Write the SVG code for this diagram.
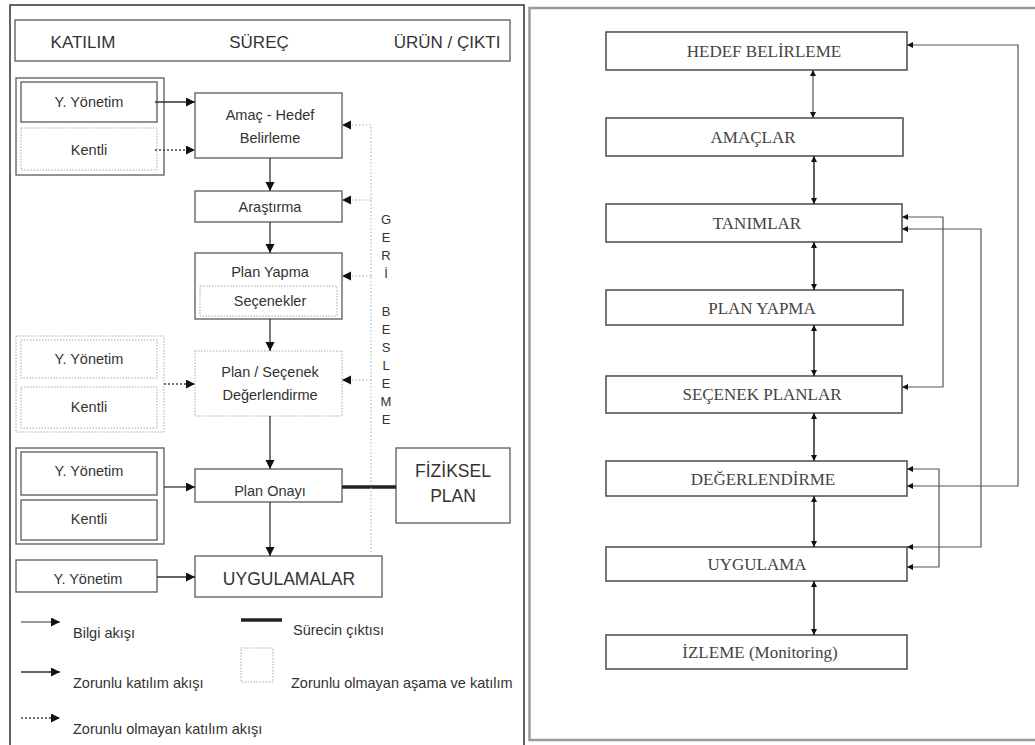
<svg xmlns="http://www.w3.org/2000/svg" width="1035" height="745" viewBox="0 0 1035 745">
<style>
.bg{fill:#fff}
.box{fill:#fff;stroke:#5a5a5a;stroke-width:1.3}
.dbox{fill:#fff;stroke:#a8a8a8;stroke-width:1;stroke-dasharray:1.5 1.5}
.sans{font-family:"Liberation Sans",Arial,sans-serif;fill:#333;text-anchor:middle}
.lg{font-family:"Liberation Sans",Arial,sans-serif;fill:#333;font-size:14.5px}
.serif{font-family:"Liberation Serif","Times New Roman",serif;fill:#444;text-anchor:middle;font-size:17px}
.rbox{fill:#fff;stroke:#555;stroke-width:1.6}
.ln{stroke:#333;stroke-width:1.3;fill:none}
.dl{stroke:#444;stroke-width:1.5;fill:none;stroke-dasharray:2 2}
.fb{stroke:#aaa;stroke-width:1;fill:none;stroke-dasharray:1.5 2}
.rl{stroke:#555;stroke-width:1.2;fill:none}
.va{stroke:#333;stroke-width:1.6;fill:none}
</style>
<defs>
<marker id="arr" markerUnits="userSpaceOnUse" markerWidth="10" markerHeight="10" refX="9" refY="4.5" orient="auto"><path d="M0,0 L9,4.5 L0,9 z" fill="#111"/></marker>
<marker id="sarr" markerUnits="userSpaceOnUse" markerWidth="7" markerHeight="7" refX="6" refY="3" orient="auto-start-reverse"><path d="M0,0 L6,3 L0,6 z" fill="#111"/></marker>
</defs>
<rect class="bg" x="0" y="0" width="1035" height="745"/>

<g id="panel-borders">
<polyline points="10,745 10,5 524,5 524,745" fill="none" stroke="#333" stroke-width="1.5"/>
<rect x="529.5" y="8" width="520" height="732" fill="none" stroke="#999" stroke-width="2.5"/>
</g>

<g id="header">
<rect class="box" x="15" y="20" width="495" height="41"/>
<text class="sans" x="83" y="48" font-size="17">KATILIM</text>
<text class="sans" x="259" y="48" font-size="17">SÜREÇ</text>
<text class="sans" x="447" y="48" font-size="17">ÜRÜN / ÇIKTI</text>
</g>

<g id="katilim1">
<rect class="box" x="16" y="78" width="148" height="97"/>
<rect class="box" x="21" y="82" width="136" height="40"/>
<text class="sans" x="89" y="107" font-size="14.5">Y. Yönetim</text>
<rect class="dbox" x="21" y="128" width="136" height="42"/>
<text class="sans" x="89" y="155" font-size="14.5">Kentli</text>
</g>

<g id="amac">
<rect class="box" x="195" y="93" width="147" height="65"/>
<text class="sans" x="270" y="120" font-size="14.5">Amaç - Hedef</text>
<text class="sans" x="270" y="143" font-size="14.5">Belirleme</text>
</g>

<g id="arastirma">
<rect class="box" x="195" y="191" width="147" height="31"/>
<text class="sans" x="270" y="212" font-size="14.5">Araştırma</text>
</g>

<g id="planyapma">
<rect class="box" x="195" y="253" width="147" height="66"/>
<text class="sans" x="270" y="277" font-size="14.5">Plan Yapma</text>
<rect class="dbox" x="200" y="286" width="137" height="30"/>
<text class="sans" x="270" y="306" font-size="14.5">Seçenekler</text>
</g>

<g id="katilim2">
<rect class="dbox" x="16" y="336" width="148" height="96"/>
<rect class="dbox" x="21" y="340" width="136" height="38"/>
<text class="sans" x="89" y="364" font-size="14.5">Y. Yönetim</text>
<rect class="dbox" x="21" y="387" width="136" height="41"/>
<text class="sans" x="89" y="412" font-size="14.5">Kentli</text>
</g>

<g id="degerlendirme">
<rect class="dbox" x="195" y="351" width="147" height="65"/>
<text class="sans" x="270" y="377" font-size="14.5">Plan / Seçenek</text>
<text class="sans" x="270" y="400" font-size="14.5">Değerlendirme</text>
</g>

<g id="katilim3">
<rect class="box" x="16" y="448" width="148" height="96"/>
<rect class="box" x="21" y="452" width="136" height="43"/>
<text class="sans" x="89" y="476" font-size="14.5">Y. Yönetim</text>
<rect class="box" x="21" y="500" width="136" height="40"/>
<text class="sans" x="89" y="524" font-size="14.5">Kentli</text>
</g>

<g id="planonayi">
<rect class="box" x="195" y="469" width="147" height="33"/>
<text class="sans" x="270" y="496" font-size="14.5">Plan Onayı</text>
</g>

<g id="fiziksel">
<rect class="box" x="396" y="448" width="114" height="75"/>
<text class="sans" x="453" y="477" font-size="17.5">FİZİKSEL</text>
<text class="sans" x="453" y="502" font-size="17.5">PLAN</text>
</g>

<g id="katilim4">
<rect class="box" x="16" y="560" width="141" height="32"/>
<text class="sans" x="88" y="584" font-size="14.5">Y. Yönetim</text>
</g>

<g id="uygulamalar">
<rect class="box" x="195" y="556" width="187" height="41"/>
<text class="sans" x="289" y="585" font-size="17.5">UYGULAMALAR</text>
</g>

<g id="geribesleme" class="sans" font-size="13">
<text x="386" y="224">G</text>
<text x="386" y="242">E</text>
<text x="386" y="260">R</text>
<text x="386" y="278">İ</text>
<text x="386" y="316">B</text>
<text x="386" y="334">E</text>
<text x="386" y="352">S</text>
<text x="386" y="370">L</text>
<text x="386" y="388">E</text>
<text x="386" y="406">M</text>
<text x="386" y="424">E</text>
</g>

<g id="connectors-left">
<line class="ln" x1="155" y1="102" x2="195" y2="102" marker-end="url(#arr)"/>
<line class="dl" x1="155" y1="150" x2="195" y2="150" marker-end="url(#arr)"/>
<line class="ln" x1="270" y1="158" x2="270" y2="191" marker-end="url(#arr)"/>
<line class="ln" x1="270" y1="222" x2="270" y2="253" marker-end="url(#arr)"/>
<line class="ln" x1="270" y1="319" x2="270" y2="351" marker-end="url(#arr)"/>
<line class="ln" x1="270" y1="416" x2="270" y2="469" marker-end="url(#arr)"/>
<line class="ln" x1="270" y1="502" x2="270" y2="556" marker-end="url(#arr)"/>
<line class="dl" x1="164" y1="384" x2="195" y2="384" marker-end="url(#arr)"/>
<line class="ln" x1="164" y1="487" x2="195" y2="487" marker-end="url(#arr)"/>
<line class="ln" x1="157" y1="577" x2="195" y2="577" marker-end="url(#arr)"/>
<line x1="342" y1="487" x2="396" y2="487" stroke="#222" stroke-width="3.5"/>
<polyline class="fb" points="371,552 371,125"/>
<line class="fb" x1="371" y1="125" x2="342" y2="125" marker-end="url(#arr)"/>
<line class="fb" x1="371" y1="200" x2="342" y2="200" marker-end="url(#arr)"/>
<line class="fb" x1="371" y1="276" x2="342" y2="276" marker-end="url(#arr)"/>
<line class="fb" x1="371" y1="380" x2="342" y2="380" marker-end="url(#arr)"/>
</g>

<g id="legend">
<line stroke="#333" stroke-width="1" x1="21" y1="622" x2="60" y2="622" marker-end="url(#arr)"/>
<text class="lg" x="73" y="638">Bilgi akışı</text>
<line class="ln" x1="21" y1="672" x2="60" y2="672" marker-end="url(#arr)"/>
<text class="lg" x="73" y="688">Zorunlu katılım akışı</text>
<line class="dl" x1="21" y1="718" x2="60" y2="718" marker-end="url(#arr)"/>
<text class="lg" x="73" y="734">Zorunlu olmayan katılım akışı</text>
<line x1="241" y1="620" x2="282" y2="620" stroke="#222" stroke-width="3.5"/>
<text class="lg" x="293" y="635">Sürecin çıktısı</text>
<rect class="dbox" x="241" y="648" width="32" height="34"/>
<text class="lg" x="291" y="688">Zorunlu olmayan aşama ve katılım</text>
</g>

<g id="r-hedef"><rect class="rbox" x="606" y="32" width="301" height="38"/><text class="serif" x="764" y="57">HEDEF BELİRLEME</text></g>
<g id="r-amaclar"><rect class="rbox" x="606" y="118" width="297" height="38"/><text class="serif" x="753" y="143">AMAÇLAR</text></g>
<g id="r-tanimlar"><rect class="rbox" x="606" y="204" width="296" height="38"/><text class="serif" x="757" y="229">TANIMLAR</text></g>
<g id="r-planyapma"><rect class="rbox" x="606" y="290" width="297" height="35"/><text class="serif" x="762" y="314">PLAN YAPMA</text></g>
<g id="r-secenek"><rect class="rbox" x="606" y="376" width="296" height="37"/><text class="serif" x="762" y="400">SEÇENEK PLANLAR</text></g>
<g id="r-degerlendirme"><rect class="rbox" x="606" y="461" width="301" height="35"/><text class="serif" x="763" y="485">DEĞERLENDİRME</text></g>
<g id="r-uygulama"><rect class="rbox" x="606" y="547" width="301" height="34"/><text class="serif" x="757" y="570">UYGULAMA</text></g>
<g id="r-izleme"><rect class="rbox" x="606" y="635" width="301" height="34"/><text class="serif" x="760" y="658">İZLEME (Monitoring)</text></g>

<g id="connectors-right">
<line class="rl" x1="813" y1="70" x2="813" y2="118" marker-start="url(#sarr)" marker-end="url(#sarr)"/>
<line class="va" x1="814" y1="156" x2="814" y2="204" marker-start="url(#sarr)" marker-end="url(#sarr)"/>
<line class="va" x1="814" y1="242" x2="814" y2="290" marker-start="url(#sarr)" marker-end="url(#sarr)"/>
<line class="va" x1="814" y1="325" x2="814" y2="376" marker-start="url(#sarr)" marker-end="url(#sarr)"/>
<line class="va" x1="814" y1="413" x2="814" y2="461" marker-start="url(#sarr)" marker-end="url(#sarr)"/>
<line class="va" x1="814" y1="496" x2="814" y2="547" marker-start="url(#sarr)" marker-end="url(#sarr)"/>
<line class="va" x1="814" y1="581" x2="814" y2="635" marker-start="url(#sarr)" marker-end="url(#sarr)"/>
<polyline class="rl" points="907,486 1018,486 1018,45 907,45" marker-start="url(#sarr)" marker-end="url(#sarr)"/>
<polyline class="rl" points="902,217 943,217 943,387 902,387" marker-start="url(#sarr)" marker-end="url(#sarr)"/>
<polyline class="rl" points="902,229 981,229 981,547 907,547" marker-start="url(#sarr)" marker-end="url(#sarr)"/>
<polyline class="rl" points="907,469 939,469 939,567 907,567" marker-start="url(#sarr)" marker-end="url(#sarr)"/>
</g>
</svg>
